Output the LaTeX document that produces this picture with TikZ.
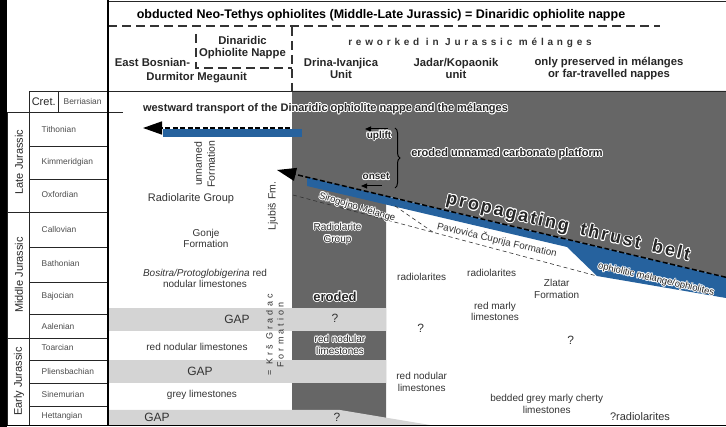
\documentclass[tikz,border=0pt]{standalone}
\usepackage{fontspec}
\setmainfont{Liberation Sans}
\usepackage{contour}
\contourlength{0.9pt}
\contournumber{10}
\usetikzlibrary{arrows.meta, calc, decorations.pathreplacing}
\definecolor{tecdark}{RGB}{102,102,102}
\definecolor{gapgrey}{RGB}{212,212,212}
\definecolor{thrustblue}{RGB}{38,98,158}
\newcommand{\halo}[1]{\contour{white}{#1}}
\tikzset{
  stage/.style={
    font=\fontsize{8.4}{10}\selectfont, text=black!70,
    anchor=west, inner sep=0pt
  },
  epoch/.style={
    font=\fontsize{11}{13}\selectfont, text=black!85,
    rotate=90, inner sep=0pt
  },
  unit head/.style={
    font=\bfseries\fontsize{11.3}{11.8}\selectfont, text=black!85,
    align=center, inner sep=0pt
  },
  litho/.style={
    font=\fontsize{10}{11.4}\selectfont, text=black!80,
    align=center, inner sep=0pt
  },
  gap label/.style={
    font=\fontsize{12}{14}\selectfont, text=black!80, inner sep=0pt
  },
  halo label/.style={
    font=\fontsize{10}{12}\selectfont, text=black!85,
    align=center, inner sep=0pt
  },
  table line/.style={draw=black!85, line width=0.9pt},
  head dash/.style={draw=black!80, line width=1.1pt, dash pattern=on 9pt off 5pt},
  move arrow/.style={
    draw=black, line width=1.5pt, dash pattern=on 5pt off 2.5pt,
    -{Triangle[length=19pt,width=13pt]}
  },
  small arrow/.style={draw=black, line width=1pt, -{Triangle[length=6pt,width=5pt]}},
  contact/.style={draw=black!80, line width=0.6pt, dash pattern=on 4pt off 3pt}
}

\begin{document}
\begin{tikzpicture}[x=1pt, y=-1pt]
\useasboundingbox (0,0) rectangle (726,427);

% ====== BACKGROUND FILLS ======
\fill[black] (0,0) rectangle (7,427);
\fill[tecdark] (292,91) -- (726,91) -- (726,277.3) -- (386,196) -- (386,425) -- (292,425) -- cycle;

% -- gaps --
\fill[gapgrey] (108,308) rectangle (386,331);
\fill[gapgrey] (108,360) rectangle (386,383);
\fill[gapgrey] (108,410) -- (340,410) -- (430,425) -- (108,425) -- cycle;

% -- thrust belt and transported nappe --
\fill[thrustblue] (163,129) rectangle (302,137);
\fill[thrustblue] (307,177.3) -- (726,277.3) -- (726,298) -- (597,276) -- (567,247) -- (307,186) -- cycle;

% ====== HEADER ======
\draw[table line] (108,1) -- (726,1);
\draw[table line] (29,91) -- (726,91);
\draw[head dash] (108,26) -- (660,26);
\draw[head dash] (196,34) -- (196,68) -- (292,68);
\draw[head dash] (292,27) -- (292,91);

\node[font=\bfseries\fontsize{12.5}{14}\selectfont, inner sep=0pt] (title) at (381,15)
  {obducted Neo-Tethys ophiolites (Middle-Late Jurassic) = Dinaridic ophiolite nappe};
\node[unit head] (ebos) at (152.5,62) {East Bosnian-};
\node[unit head] (durm) at (196.7,78) {Durmitor Megaunit};
\node[unit head] (dnappe) at (242.5,47.5) {Dinaridic\\Ophiolite Nappe};
\node[font=\bfseries\fontsize{10}{12}\selectfont\addfontfeature{LetterSpace=38}, text=black!80,
  inner sep=0pt] (rework) at (470,42.7) {reworked in Jurassic mélanges};
\node[unit head] (drina) at (341,68.2) {Drina-Ivanjica\\Unit};
\node[unit head] (jadar) at (456,68.2) {Jadar/Kopaonik\\unit};
\node[unit head] (farnap) at (609,68.2) {only preserved in mélanges\\or far-travelled nappes};

% ====== TIME SCALE ======
\draw[table line] (29,91) rectangle (108,112);
\draw[table line] (58,91) -- (58,112);
\node[font=\fontsize{11}{13}\selectfont, text=black!85, inner sep=0pt] (cret) at (43.7,101.5) {Cret.};
\node[stage] (berr) at (63.5,101.5) {Berriasian};

\draw[table line] (7,112) -- (123,112);
\draw[table line] (7,112) rectangle (29,425);
\draw[table line] (29,112) rectangle (108,425);
\foreach \yy in {146,179,212,247,282,314,338,360,383,406}
  \draw[table line] (29,\yy) -- (108,\yy);
\draw[table line] (7,212) -- (29,212);
\draw[table line] (7,338) -- (29,338);
\draw[black, line width=1.2pt] (108,0) -- (108,425);

\node[epoch] (latej) at (19,162) {Late Jurassic};
\node[epoch] (midj) at (19,275) {Middle Jurassic};
\node[epoch] (earlyj) at (19,381.5) {Early Jurassic};

\node[stage] (tith) at (41.5,130) {Tithonian};
\node[stage] (kimm) at (41.5,162.3) {Kimmeridgian};
\node[stage] (oxf) at (41.5,195) {Oxfordian};
\node[stage] (call) at (41.5,230) {Callovian};
\node[stage] (bath) at (41.5,264) {Bathonian};
\node[stage] (baj) at (41.5,296.7) {Bajocian};
\node[stage] (aal) at (41.5,326) {Aalenian};
\node[stage] (toar) at (41.5,347.3) {Toarcian};
\node[stage] (plie) at (41.5,371.7) {Pliensbachian};
\node[stage] (sine) at (41.5,394.3) {Sinemurian};
\node[stage] (hett) at (41.5,416.7) {Hettangian};

\draw[black, line width=1.8pt] (0,425.5) -- (726,425.5);

% ====== TRANSPORT AND THRUSTING ======
\coordinate (ww tail) at (290,128);
\coordinate (ww tip) at (143,128);
\draw[move arrow] (ww tail) -- (ww tip);
\coordinate (thr tail) at (726,277.3);
\coordinate (thr tip) at (277,170);
\draw[move arrow] (thr tail) -- (thr tip);

\draw[contact] (293,195) -- (597,276);
\draw[contact] (395,206) -- (433,232.2);

\coordinate (up tail) at (388,129);
\coordinate (up tip) at (365,129);
\draw[small arrow] (up tail) -- (up tip);
\coordinate (on tail) at (382,186);
\coordinate (on tip) at (361,186);
\draw[small arrow] (on tail) -- (on tip);
\draw[decorate, decoration={brace, amplitude=5pt}, line width=1pt] (395,128) -- (395,188);

\node[halo label, font=\bfseries\fontsize{11}{13}\selectfont] (westward) at (325.5,109)
  {\halo{westward transport of the Dinaridic ophiolite nappe and the mélanges}};
\node[halo label, font=\bfseries\fontsize{10}{12}\selectfont] (uplift) at (379,136) {\halo{uplift}};
\node[halo label, font=\bfseries\fontsize{10}{12}\selectfont] (onset) at (376,177) {\halo{onset}};
\node[halo label, font=\bfseries\fontsize{11}{13}\selectfont] (platform) at (507,154)
  {\halo{eroded unnamed carbonate platform}};
\node[halo label, font=\bfseries\fontsize{18}{20}\selectfont\addfontfeature{LetterSpace=12},
  rotate=-13.2] (belt) at (568,228)
  {\halo{propagating}\hspace{12pt}\halo{thrust}\hspace{12pt}\halo{belt}};
\node[halo label, font=\fontsize{9.5}{11}\selectfont, rotate=-17] (siro) at (357,208)
  {\halo{Sirogojno Mélange}};
\node[litho, font=\fontsize{9.8}{11}\selectfont, rotate=-13.2] (pavl) at (497,240)
  {Pavlovića Čuprija Formation};
\node[halo label, font=\fontsize{9.5}{11}\selectfont, rotate=-13] (ophmel) at (656,280)
  {\halo{ophiolitic mélange/ophiolites}};

% ====== EAST BOSNIAN-DURMITOR MEGAUNIT ======
\node[litho, font=\fontsize{10.5}{13}\selectfont, rotate=90] (unnamed) at (204.5,164) {unnamed\\Formation};
\node[litho, font=\fontsize{11}{13}\selectfont] (radgr) at (191,199) {Radiolarite Group};
\node[litho] (gonje) at (206,238.5) {Gonje\\Formation};
\node[litho] (bositra) at (205,278.5) {\textit{Bositra/Protoglobigerina} red\\nodular limestones};
\node[gap label] (gap aal) at (237,319) {GAP};
\node[litho] (rnl) at (197,347) {red nodular limestones};
\node[gap label] (gap plie) at (200,371) {GAP};
\node[litho] (greyls) at (202,395) {grey limestones};
\node[gap label] (gap hett) at (157,417) {GAP};
\node[litho, font=\fontsize{10.5}{12}\selectfont, rotate=90] (ljubis) at (273,206) {Ljubiš Fm.};
\node[litho, font=\fontsize{9}{11}\selectfont\addfontfeature{LetterSpace=35}, rotate=90] (krs) at (275,335)
  {= Krš Gradac\\Formation};

% ====== DRINA-IVANJICA UNIT ======
\node[halo label] (radcol) at (337.5,234) {\halo{Radiolarite}\\\halo{Group}};
\node[halo label, font=\bfseries\fontsize{13}{15}\selectfont] (eroded) at (335,297) {\halo{eroded}};
\node[gap label] (q aal) at (335,318) {?};
\node[halo label] (rnlcol) at (340,345.5) {\halo{red nodular}\\\halo{limestones}};
\node[gap label] (q hett) at (337,417) {?};

% ====== JADAR/KOPAONIK AND FAR-TRAVELLED ======
\node[litho] (rad a) at (421.7,277.3) {radiolarites};
\node[litho] (rad b) at (491.7,273.3) {radiolarites};
\node[litho] (zlatar) at (556.7,289) {Zlatar\\Formation};
\node[litho] (rml) at (495,311.7) {red marly\\limestones};
\node[gap label] (q jad) at (420.7,328.3) {?};
\node[gap label] (q far) at (570.7,340) {?};
\node[litho] (rnl jad) at (421.7,382) {red nodular\\limestones};
\node[litho] (bedded) at (546.7,404) {bedded grey marly cherty\\limestones};
\node[litho, font=\fontsize{11}{13}\selectfont] (qrad) at (640,416.7) {?radiolarites};

\end{tikzpicture}
\end{document}
